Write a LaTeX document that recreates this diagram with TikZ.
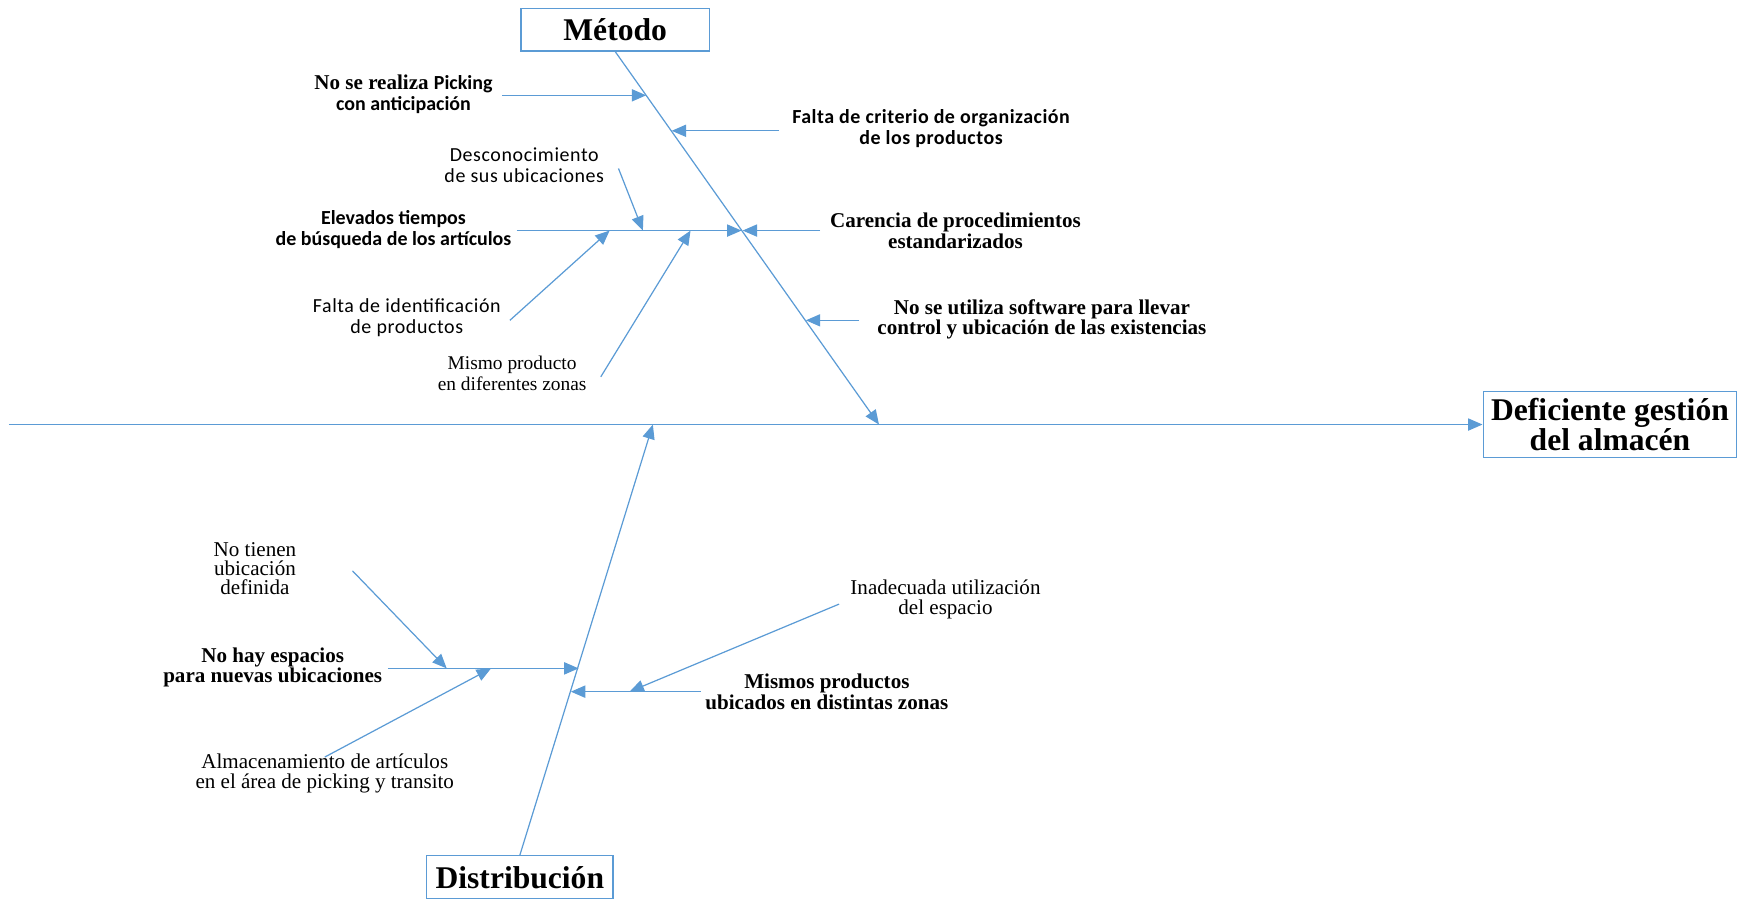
\documentclass[tikz,border=0pt]{standalone}
\usepackage{fontspec}
\setmainfont{Liberation Serif}
\newfontfamily\calfont{Carlito}
\newfontfamily\calsp{Carlito}[LetterSpace=3]
\usetikzlibrary{arrows.meta}
\definecolor{bone}{HTML}{5B9BD5}
\begin{document}
\begin{tikzpicture}[x=1pt,y=-1pt,
  ln/.style={draw=bone, line width=1.1pt},
  arr/.style={ln, -{Triangle[length=13pt,width=11pt]}},
  box/.style={draw=bone, line width=1pt, inner sep=0pt, align=center, font=\fontsize{28.5}{27}\selectfont\bfseries},
  ser/.style={align=center, inner sep=0pt, font=\fontsize{19}{18.5}\selectfont},
  serb/.style={align=center, inner sep=0pt, font=\fontsize{19}{18.5}\selectfont\bfseries},
  cal/.style={align=center, inner sep=0pt, font=\calsp\fontsize{18}{19}\selectfont},
  calb/.style={align=center, inner sep=0pt, font=\calfont\fontsize{18}{19}\selectfont\bfseries}
]
\useasboundingbox (0,0) rectangle (1568,812);

% boxes
\node[box, minimum width=170pt, minimum height=38pt] (met) at (555,27) {Método};
\node[box, minimum width=229pt, minimum height=59pt] (eff) at (1452.5,383) {Deficiente gestión\\del almacén};
\node[box, minimum width=168pt, minimum height=39pt] (dis) at (469,791.5) {Distribución};

% spine and main bones
\coordinate (tail) at (8,383);
\coordinate (mj) at (793,383);
\coordinate (dj) at (589,383);
\draw[arr] (tail) -- (eff.west);
\draw[arr] (met.south) -- (mj);
\draw[arr] (dis.north) -- (dj);

% Metodo causes
\node[serb] (t1) at (364,85) {No se realiza {\calfont\fontsize{18}{19}\selectfont Picking}\\{\calfont\fontsize{18}{19}\selectfont con anticipación}};
\coordinate (a1s) at (453,86); \coordinate (a1e) at (583,86);
\draw[arr] (a1s) -- (a1e);

\node[calb, font=\calfont\fontsize{18}{19}\selectfont\bfseries\addfontfeature{LetterSpace=2.5}] (t2) at (840,116) {Falta de criterio de organización\\de los productos};
\coordinate (a2s) at (703,118); \coordinate (a2e) at (606,118);
\draw[arr] (a2s) -- (a2e);

\node[calb] (t4) at (355,207) {Elevados tiempos\\de búsqueda de los artículos};
\coordinate (a4s) at (466,208); \coordinate (a4e) at (669,208);
\draw[arr] (a4s) -- (a4e);

\node[cal] (t3) at (473,149) {Desconocimiento\\de sus ubicaciones};
\coordinate (a3s) at (558,152); \coordinate (a3e) at (580,208);
\draw[arr] (a3s) -- (a3e);

\node[serb] (t5) at (862,208) {Carencia de procedimientos\\estandarizados};
\coordinate (a5s) at (740,208); \coordinate (a5e) at (670,208);
\draw[arr] (a5s) -- (a5e);

\node[cal] (t6) at (367,287) {Falta de identificación\\de productos};
\coordinate (a6s) at (460,289); \coordinate (a6e) at (550,208);
\draw[arr] (a6s) -- (a6e);

\node[ser, font=\fontsize{17.5}{18.5}\selectfont] (t7) at (462,337) {Mismo producto\\en diferentes zonas};
\coordinate (a7s) at (542,340); \coordinate (a7e) at (623,208);
\draw[arr] (a7s) -- (a7e);

\node[serb] (t8) at (940,288) {No se utiliza software para llevar\\control y ubicación de las existencias};
\coordinate (a8s) at (775,289); \coordinate (a8e) at (727,289);
\draw[arr] (a8s) -- (a8e);

% Distribucion causes
\node[serb] (d1) at (246,602) {No hay espacios\\para nuevas ubicaciones};
\coordinate (b1s) at (350,603); \coordinate (b1e) at (522,603);
\draw[arr] (b1s) -- (b1e);

\node[ser, font=\fontsize{19}{17.5}\selectfont] (d2) at (230,513) {No tienen\\ubicación\\definida};
\coordinate (b2s) at (318,515); \coordinate (b2e) at (403,603);
\draw[arr] (b2s) -- (b2e);

\node[ser] (d3) at (293,698) {Almacenamiento de artículos\\en el área de picking y transito};
\coordinate (b3s) at (293,683); \coordinate (b3e) at (443,603);
\draw[arr] (b3s) -- (b3e);

\node[serb] (d4) at (746,624) {Mismos productos\\ubicados en distintas zonas};
\coordinate (b4s) at (632,624); \coordinate (b4e) at (515,624);
\draw[arr] (b4s) -- (b4e);

\node[ser] (d5) at (853,541) {Inadecuada utilización\\del espacio};
\coordinate (b5s) at (757,545); \coordinate (b5e) at (568,624);
\draw[arr] (b5s) -- (b5e);
\end{tikzpicture}
\end{document}
